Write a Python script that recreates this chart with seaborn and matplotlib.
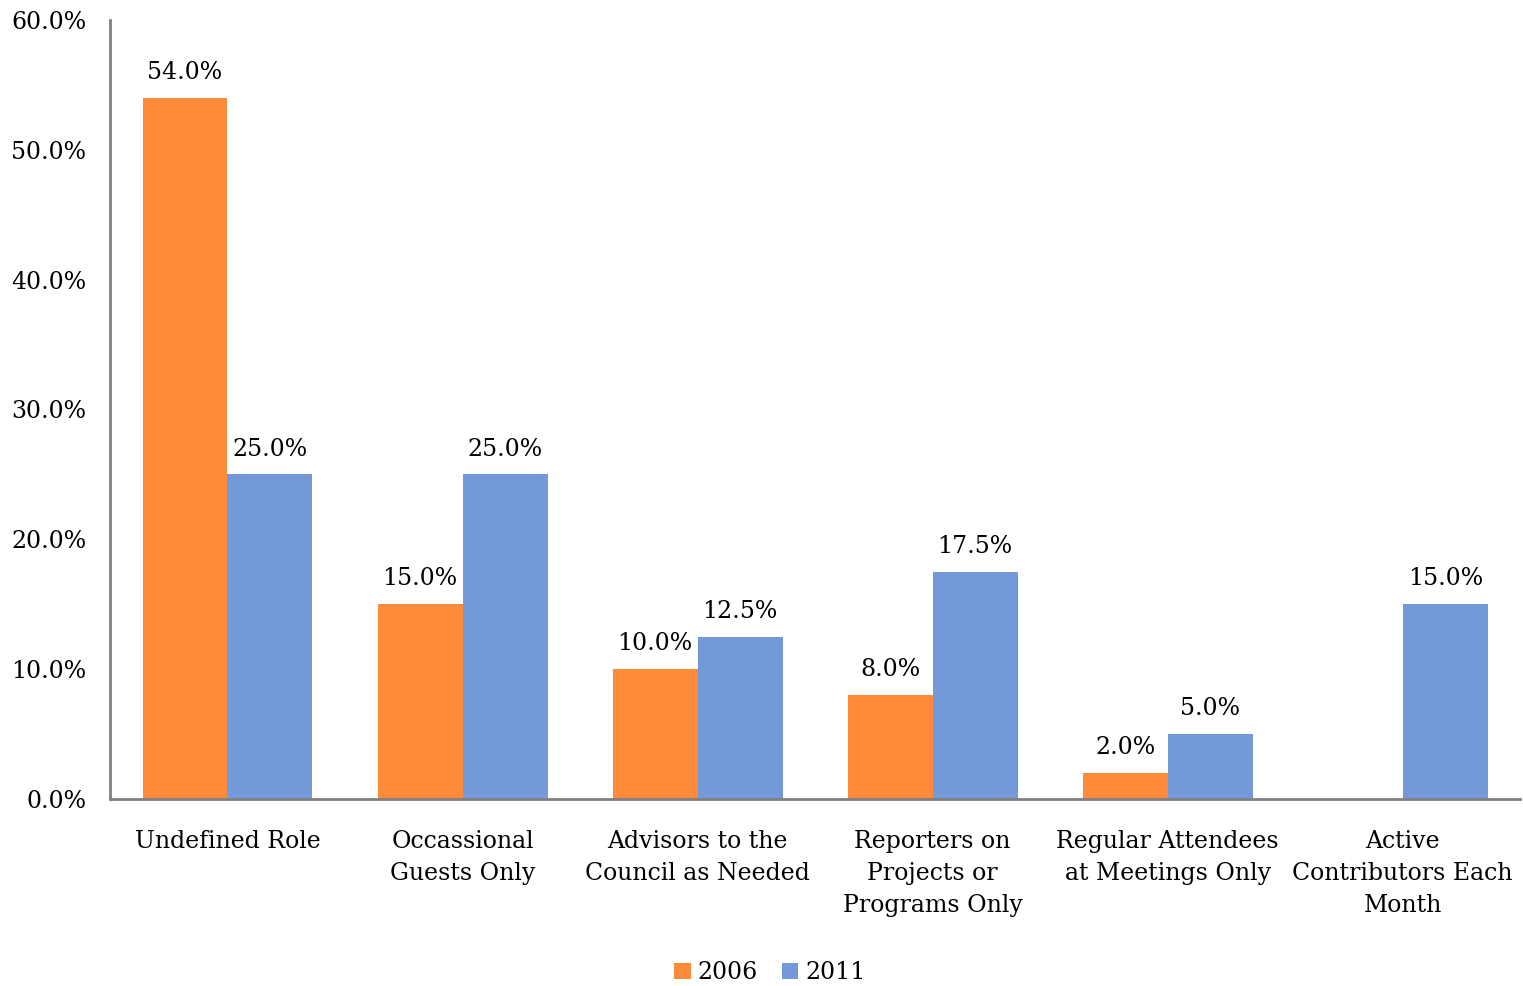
import pandas as pd
import seaborn as sns
import matplotlib
matplotlib.use('Agg')
import matplotlib.pyplot as plt

categories = ["Undefined Role", "Occassional\nGuests Only", "Advisors to the\nCouncil as Needed",
              "Reporters on\nProjects or\nPrograms Only", "Regular Attendees\nat Meetings Only",
              "Active\nContributors Each\nMonth"]
vals_2006 = [54.0, 15.0, 10.0, 8.0, 2.0, 0.0]
vals_2011 = [25.0, 25.0, 12.5, 17.5, 5.0, 15.0]
years = ["2006", "2011"]
colors = ["#FF8A3A", "#7499D8"]

df = pd.DataFrame({
    "role": categories * 2,
    "year": [years[0]] * len(categories) + [years[1]] * len(categories),
    "value": vals_2006 + vals_2011,
})

sns.set_style("white")
plt.rcParams['font.family'] = ['DejaVu Serif']
plt.rcParams['text.color'] = 'black'
plt.rcParams['xtick.color'] = 'black'
plt.rcParams['ytick.color'] = 'black'
fs = 17

fig = plt.figure(figsize=(15.23, 9.86), dpi=100)
ax = fig.add_axes([0.0722, 0.1897, 0.926, 0.79])
sns.barplot(data=df, x="role", y="value", hue="year", palette=colors, width=0.723,
            saturation=1, linewidth=0, ax=ax, legend=True)

for cont in ax.containers:
    labels = [f"{v:.1f}%" if v > 0 else "" for v in cont.datavalues]
    ax.bar_label(cont, labels=labels, padding=10, fontsize=fs, color='black')

ax.set_ylim(0, 60)
ax.set_xlim(-0.5, 5.5)
ax.set_yticks(range(0, 61, 10))
ax.set_yticklabels([f"{t:.1f}%" for t in range(0, 61, 10)], fontsize=fs)
ax.tick_params(axis='x', labelsize=fs, pad=22, length=0, labelcolor='black')
ax.tick_params(axis='y', pad=17, length=0, labelcolor='black')
for lab in ax.get_xticklabels():
    lab.set_linespacing(1.5)
ax.set_xlabel("")
ax.set_ylabel("")
for s in ["top", "right"]:
    ax.spines[s].set_visible(False)
for s in ["left", "bottom"]:
    ax.spines[s].set_color("#808080")
    ax.spines[s].set_linewidth(2)

ax.legend(loc="center", bbox_to_anchor=(0.468, -0.223), ncol=2, frameon=False,
          fontsize=fs, handlelength=0.7, handleheight=0.7, handletextpad=0.3, columnspacing=1.0)

fig.savefig("out.png", dpi=100)
